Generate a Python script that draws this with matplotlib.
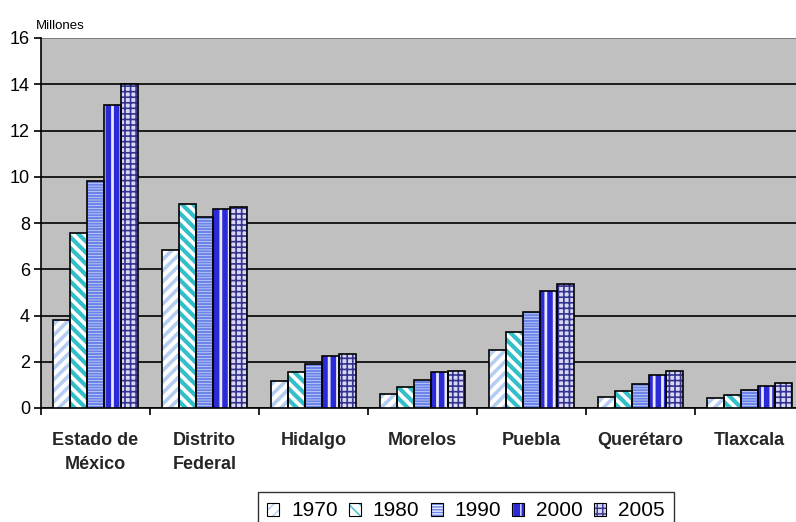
import numpy as np
import matplotlib
matplotlib.use("Agg")
import matplotlib.pyplot as plt
from matplotlib.patches import Patch

plt.rcParams['font.family'] = ['Liberation Sans', 'DejaVu Sans']

estados = ['Estado de\nMéxico', 'Distrito\nFederal', 'Hidalgo', 'Morelos',
           'Puebla', 'Querétaro', 'Tlaxcala']
anios = ['1970', '1980', '1990', '2000', '2005']

# poblacion en millones
p1970 = [3.8, 6.85, 1.18, 0.6, 2.5, 0.48, 0.42]
p1980 = [7.55, 8.83, 1.55, 0.92, 3.3, 0.74, 0.56]
p1990 = [9.8, 8.24, 1.9, 1.2, 4.13, 1.05, 0.76]
p2000 = [13.1, 8.6, 2.24, 1.56, 5.07, 1.41, 0.96]
p2005 = [14.0, 8.7, 2.34, 1.6, 5.38, 1.6, 1.07]
series = [p1970, p1980, p1990, p2000, p2005]

# estilo de cada serie: relleno, color de trama, trama, grosor de trama
estilos = [
    ('white', '#b4cdf0', '///', 2.6),
    ('white', '#33bfca', '\\\\\\', 3.0),
    ('#eef0fc', '#6a84ea', '------', 1.6),
    ('#2a2ad8', '#e8e8ff', '||', 2.0),
    ('#d8d8f6', '#34348e', '+++', 1.2),
]

fig = plt.figure(figsize=(7.96, 5.22), dpi=100)
ax = fig.add_axes([41/796, 1 - 408/522, 763/796, 370/522])
ax.set_facecolor('#c0c0c0')

x = np.arange(len(estados))
w = 0.156
handles = []
for i, (vals, (fc, hc, h, hlw)) in enumerate(zip(series, estilos)):
    pos = x - 2*w + i*w
    with plt.rc_context({'hatch.linewidth': hlw}):
        ax.bar(pos, vals, w, color=fc, edgecolor=hc, hatch=h, linewidth=0, zorder=3)
        relleno = Patch(facecolor=fc, edgecolor=hc, hatch=h, linewidth=0)
    ax.bar(pos, vals, w, color='none', edgecolor='black', linewidth=1.2, zorder=4)
    borde = Patch(facecolor='none', edgecolor='black', linewidth=0.8)
    handles.append((relleno, borde))

ax.set_xlim(-0.5, len(estados) - 0.5)
ax.set_ylim(0, 16)
ax.set_yticks(range(0, 17, 2))
ax.yaxis.grid(True, color='black', linewidth=1.2, zorder=1)
ax.set_axisbelow(True)

ax.set_xticks(x)
ax.set_xticklabels(estados, fontweight='bold', fontsize=13, color='#262626',
                   linespacing=1.55)
ax.set_xticks(np.arange(len(estados) + 1) - 0.5, minor=True)
ax.tick_params(axis='x', which='major', length=0, pad=17)
ax.tick_params(axis='x', which='minor', length=5, direction='out', width=1.2)
ax.tick_params(axis='y', length=5, direction='out', width=1.2, labelsize=13, pad=3)

for s in ['top', 'right']:
    ax.spines[s].set_visible(False)
ax.spines['left'].set_linewidth(1.2)
ax.spines['bottom'].set_linewidth(1.2)
ax.axhline(16, color='#909090', linewidth=1.2, zorder=2)

fig.text(36/796, 1 - 26/522, 'Millones', fontsize=9.5, va='center', ha='left')

fig.legend(handles, anios, loc='upper left', bbox_to_anchor=(258/796, 1 - 492/522),
           ncol=5, fontsize=15, frameon=True, fancybox=False, edgecolor='black',
           handlelength=0.58, handleheight=0.58, handletextpad=0.55, columnspacing=0.55,
           borderpad=0.45, borderaxespad=0)

fig.savefig('out.png', dpi=100)
